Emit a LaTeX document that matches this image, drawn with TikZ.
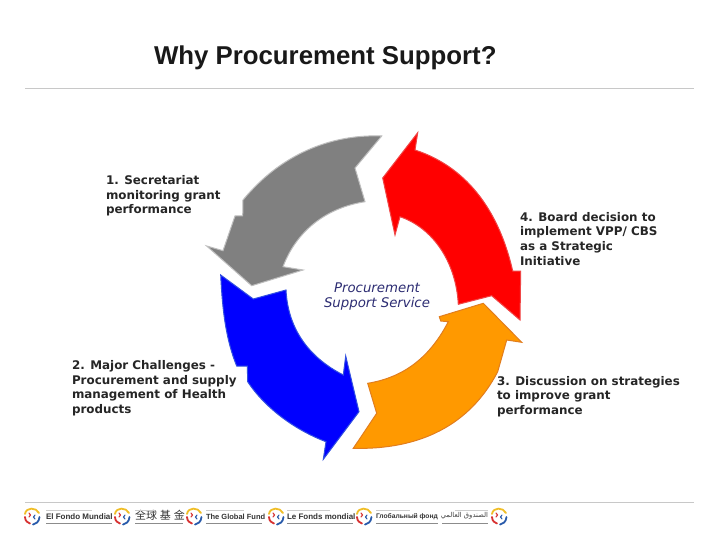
\documentclass[tikz,border=0pt]{standalone}
\usepackage{fontspec}
\setmainfont{DejaVu Sans}
\newfontfamily\titlefont{Liberation Sans}
\newfontfamily\cjkfont{Noto Sans CJK SC}
\newfontfamily\arabicfont[Script=Arabic]{DejaVu Sans}
\TeXXeTstate=1
\definecolor{arrgray}{RGB}{128,128,128}
\definecolor{arrgrayline}{RGB}{190,190,190}
\definecolor{arrred}{RGB}{255,0,0}
\definecolor{arrredline}{RGB}{240,70,70}
\definecolor{arrorange}{RGB}{255,153,0}
\definecolor{arrorangeline}{RGB}{225,125,30}
\definecolor{arrblue}{RGB}{0,0,255}
\definecolor{arrblueline}{RGB}{50,80,225}
\definecolor{rulegray}{RGB}{200,200,200}
\definecolor{centertext}{RGB}{45,45,115}
\definecolor{logored}{RGB}{215,50,50}
\definecolor{logoyellow}{RGB}{240,190,40}
\definecolor{logoblue}{RGB}{40,90,170}
\tikzset{
  every node/.style={inner sep=0pt,outer sep=0pt},
  cyc/.style={line width=1pt,line join=miter},
  lab/.style={font=\fontsize{11.9}{14.7}\selectfont\bfseries,anchor=north west,align=left,text=black!85},
  foot/.style={font=\titlefont\bfseries\fontsize{8}{10}\selectfont,anchor=west,text=black!80},
  micro/.style={line width=1pt,black!45},
  microlight/.style={line width=.8pt,black!20},
  rulefine/.style={line width=.8pt,rulegray},
}
\newcommand{\swirlmark}[2]{%
  \begin{scope}[shift={(#1,#2)}]
    \draw[logoyellow,line width=1.8pt,line cap=round] (-7,-2) .. controls (-6,-9) and (4,-9) .. (7,-3);
    \draw[logoblue,line width=1.8pt,line cap=round] (7.5,1) .. controls (7,6) and (4,8) .. (1,8.5);
    \draw[logored,line width=1.8pt,line cap=round] (-7,1) .. controls (-7,5) and (-4,7) .. (-2,7.5);
    \draw[logored,line width=1.1pt,line cap=round] (-3,-3) .. controls (-1,-2) and (-1,0) .. (-3,1);
    \draw[logoblue,line width=1.1pt,line cap=round] (3,-1) .. controls (1,0) and (1,2) .. (3,3);
  \end{scope}}
\begin{document}
\begin{tikzpicture}[x=1pt,y=-1pt]
\useasboundingbox (0,0) rectangle (720,540);
\fill[white] (0,0) rectangle (720,540);

\node[font=\titlefont\bfseries\fontsize{25.8}{28}\selectfont,anchor=base west,text=black!90] (title) at (154,65) {Why Procurement Support?};
\coordinate (r1a) at (25,88); \coordinate (r1b) at (694,88);
\draw[rulefine] (r1a) -- (r1b);
\coordinate (r2a) at (25,502); \coordinate (r2b) at (694,502);
\draw[rulefine] (r2a) -- (r2b);

% gray
\filldraw[cyc,fill=arrgray,draw=arrgrayline]
  (381.7,136) .. controls (330,134) and (280,155) .. (243,200)
  -- (242.7,216) -- (235,216) -- (223,250.7) -- (206.7,246) -- (251.7,285.7) -- (303,270) -- (283,266.7)
  .. controls (296,232) and (325,208) .. (365,201.7)
  -- (355,168) -- cycle;
% red
\filldraw[cyc,fill=arrred,draw=arrredline]
  (417.7,132.7) -- (415,150)
  .. controls (470,168) and (500,215) .. (512.7,271)
  -- (520.7,271) -- (520,320) -- (491.7,295.7) -- (458.3,304.3)
  .. controls (456,262) and (433,228) .. (400,216.7)
  -- (395,235) -- (382.7,178) -- cycle;
% orange
\filldraw[cyc,fill=arrorange,draw=arrorangeline]
  (521.7,342.3) -- (483.3,303.3) -- (439.3,316.7) -- (440.7,321) -- (448.3,321.7)
  .. controls (428,361) and (400,378) .. (367.7,383.3)
  -- (376.7,413.3) -- (353.3,448.3)
  .. controls (420,450) and (470,425) .. (497.7,371.7)
  -- (506.7,340) -- cycle;
% blue
\filldraw[cyc,fill=arrblue,draw=arrblueline]
  (220.7,275) -- (253.3,299) -- (286,290)
  .. controls (288,330) and (310,358) .. (343.3,375)
  -- (345.7,356) -- (359,411.7) -- (323.3,459.3) -- (326,441.7)
  .. controls (295,430) and (265,408) .. (247.7,381.7)
  -- (247.3,366) -- (236.7,366)
  .. controls (224,335) and (222,300) .. (220.7,275) -- cycle;

\node[lab] (t1) at (106,175.5) {1. Secretariat\\monitoring grant\\performance};
\node[lab] (t4) at (520,212) {4. Board decision to\\implement VPP/ CBS\\as a Strategic\\Initiative};
\node[lab] (t2) at (72,360.5) {2. Major Challenges -\\Procurement and supply\\management of Health\\products};
\node[lab] (t3) at (497,376) {3. Discussion on strategies\\to improve grant\\performance};
\node[font=\fontsize{13.3}{15}\selectfont\itshape,align=center,text=centertext] (center) at (377,297) {Procurement\\Support Service};

% footer
\swirlmark{32}{516}\swirlmark{122}{516}\swirlmark{194}{516}\swirlmark{276}{516}\swirlmark{364}{516}\swirlmark{499}{516}
\node[foot] (f1) at (46,516.5) {El Fondo Mundial};
\node[font=\cjkfont\fontsize{11}{12}\selectfont,anchor=west,text=black!80] (f2) at (135,515) {全球\hspace{3pt}基\hspace{3pt}金};
\node[foot,font=\titlefont\bfseries\fontsize{7.5}{10}\selectfont] (f3) at (206,516.5) {The Global Fund};
\node[foot] (f4) at (287,516.5) {Le Fonds mondial};
\node[foot,font=\titlefont\bfseries\fontsize{6.7}{10}\selectfont] (f5) at (376,516.5) {Глобальный фонд};
\node[font=\arabicfont\fontsize{6.8}{9}\selectfont,anchor=east,text=black!75] (f6) at (488,515.5) {\beginR الصندوق العالمي\endR};
\foreach \a/\b in {46/112,135/183,206/262,287/353,376/438,442/488}{
  \coordinate (mA) at (\a,523.5); \coordinate (mB) at (\b,523.5);
  \draw[micro] (mA) -- (mB);
}
\foreach \a/\b in {46/92,135/155,206/244,287/330,376/410,455/488}{
  \coordinate (mC) at (\a,510); \coordinate (mD) at (\b,510);
  \draw[microlight] (mC) -- (mD);
}
\end{tikzpicture}
\end{document}
